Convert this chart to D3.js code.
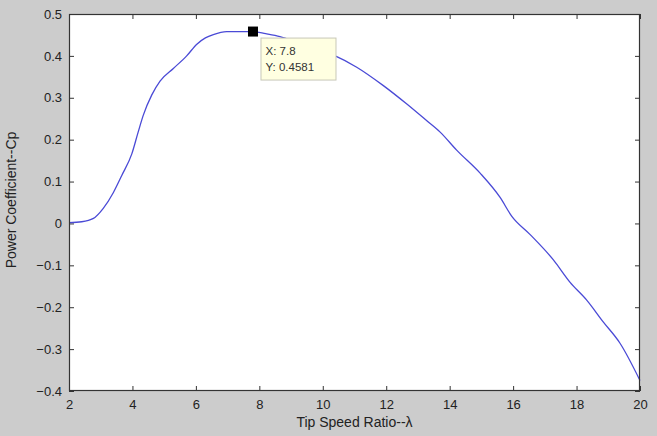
<!DOCTYPE html>
<html>
<head>
<meta charset="utf-8">
<script src="https://cdn.jsdelivr.net/npm/d3@7"></script>
<style>
  html, body { margin: 0; padding: 0; background: #cccccc; }
  svg { display: block; font-family: "Liberation Sans", Arial, sans-serif; }
</style>
</head>
<body>
<svg id="chart" width="657" height="436"></svg>
<script>
// Data
const tsr = [2.0, 2.4, 2.77, 3.08, 3.4, 3.66, 3.98, 4.18, 4.34, 4.61, 4.87, 5.29, 5.71, 6.03, 6.3, 6.55, 6.97, 7.4, 7.8, 8.2, 8.65, 9.2, 9.8, 10.39, 11.07, 11.91, 12.65, 13.28, 13.7, 14.22, 14.96, 15.59, 15.96, 16.53, 17.27, 17.79, 18.32, 18.84, 19.37, 20.0];
const cp  = [0.002, 0.004, 0.012, 0.036, 0.074, 0.114, 0.166, 0.218, 0.258, 0.307, 0.340, 0.370, 0.400, 0.428, 0.443, 0.451, 0.458, 0.458, 0.4581, 0.453, 0.446, 0.432, 0.416, 0.400, 0.373, 0.329, 0.285, 0.245, 0.218, 0.175, 0.120, 0.062, 0.017, -0.026, -0.087, -0.140, -0.183, -0.235, -0.286, -0.375];
const xTicks = [2, 4, 6, 8, 10, 12, 14, 16, 18, 20];
const yTicks = [-0.4, -0.3, -0.2, -0.1, 0, 0.1, 0.2, 0.3, 0.4, 0.5];
const marker = { x: 7.8, y: 0.4581 };
const xLabel = "Tip Speed Ratio--λ";
const yLabel = "Power Coefficient--Cp";

const svg = d3.select("#chart");
const m = { left: 69, top: 14, right: 17, bottom: 45 };
const W = 657, H = 436;
const pw = W - m.left - m.right, ph = H - m.top - m.bottom;

const x = d3.scaleLinear().domain([2, 20]).range([m.left, m.left + pw]);
const y = d3.scaleLinear().domain([-0.4, 0.5]).range([m.top + ph, m.top]);

svg.append("rect").attr("width", W).attr("height", H).attr("fill", "#cccccc");
svg.append("rect").attr("x", m.left).attr("y", m.top).attr("width", pw).attr("height", ph).attr("fill", "#ffffff");

const tickLen = 5;
const fmtY = d => d3.format("")(Math.round(d * 10) / 10);

// Bottom axis
const gx = svg.append("g").attr("transform", `translate(0,${m.top + ph})`)
  .call(d3.axisBottom(x).tickValues(xTicks).tickSizeInner(-tickLen).tickSizeOuter(0).tickPadding(9).tickFormat(d3.format("d")));
// Top axis (ticks only)
const gxt = svg.append("g").attr("transform", `translate(0,${m.top})`)
  .call(d3.axisTop(x).tickValues(xTicks).tickSizeInner(-tickLen).tickSizeOuter(0).tickFormat(""));
// Left axis
const gy = svg.append("g").attr("transform", `translate(${m.left},0)`)
  .call(d3.axisLeft(y).tickValues(yTicks).tickSizeInner(-tickLen).tickSizeOuter(0).tickPadding(7).tickFormat(fmtY));
// Right axis (ticks only)
const gyr = svg.append("g").attr("transform", `translate(${m.left + pw},0)`)
  .call(d3.axisRight(y).tickValues(yTicks).tickSizeInner(-tickLen).tickSizeOuter(0).tickFormat(""));

[gx, gxt, gy, gyr].forEach(g => {
  g.select(".domain").remove();
  g.selectAll(".tick line").attr("stroke", "#333").attr("stroke-width", 1);
  g.selectAll(".tick text").attr("fill", "#222").style("font-size", "13px").style("font-family", "'Liberation Sans', Arial, sans-serif");
});

// Curve
const pts = tsr.map((d, i) => [d, cp[i]]);
const line = d3.line().x(d => x(d[0])).y(d => y(d[1])).curve(d3.curveMonotoneX);
svg.append("path").datum(pts).attr("d", line)
  .attr("fill", "none").attr("stroke", "#4a4ad6").attr("stroke-width", 1.3);

// Frame
svg.append("rect").attr("x", m.left + 0.5).attr("y", m.top + 0.5).attr("width", pw - 1).attr("height", ph - 1)
  .attr("fill", "none").attr("stroke", "#333").attr("stroke-width", 1.2);

// Data tip marker
const mx = x(marker.x), my = y(marker.y);
svg.append("rect").attr("x", mx - 5).attr("y", my - 5).attr("width", 10).attr("height", 10).attr("fill", "#000");

// Data tip box
const tipG = svg.append("g").attr("transform", `translate(${mx + 7.5},${my + 6})`);
tipG.append("rect").attr("x", 0.5).attr("y", 0.5).attr("width", 75).attr("height", 42)
  .attr("fill", "#ffffe1").attr("stroke", "#c8c8b8").attr("stroke-width", 1);
tipG.append("text").attr("x", 5).attr("y", 17).attr("fill", "#333").style("font-size", "11.5px").text(`X: ${marker.x}`);
tipG.append("text").attr("x", 5).attr("y", 33).attr("fill", "#333").style("font-size", "11.5px").text(`Y: ${marker.y}`);

// Axis labels
svg.append("text").attr("x", m.left + pw / 2).attr("y", 427).attr("text-anchor", "middle")
  .attr("fill", "#222").style("font-size", "14px").text(xLabel);
svg.append("text").attr("transform", `translate(16,200) rotate(-90)`).attr("text-anchor", "middle")
  .attr("fill", "#222").style("font-size", "14px").text(yLabel);
</script>
</body>
</html>
